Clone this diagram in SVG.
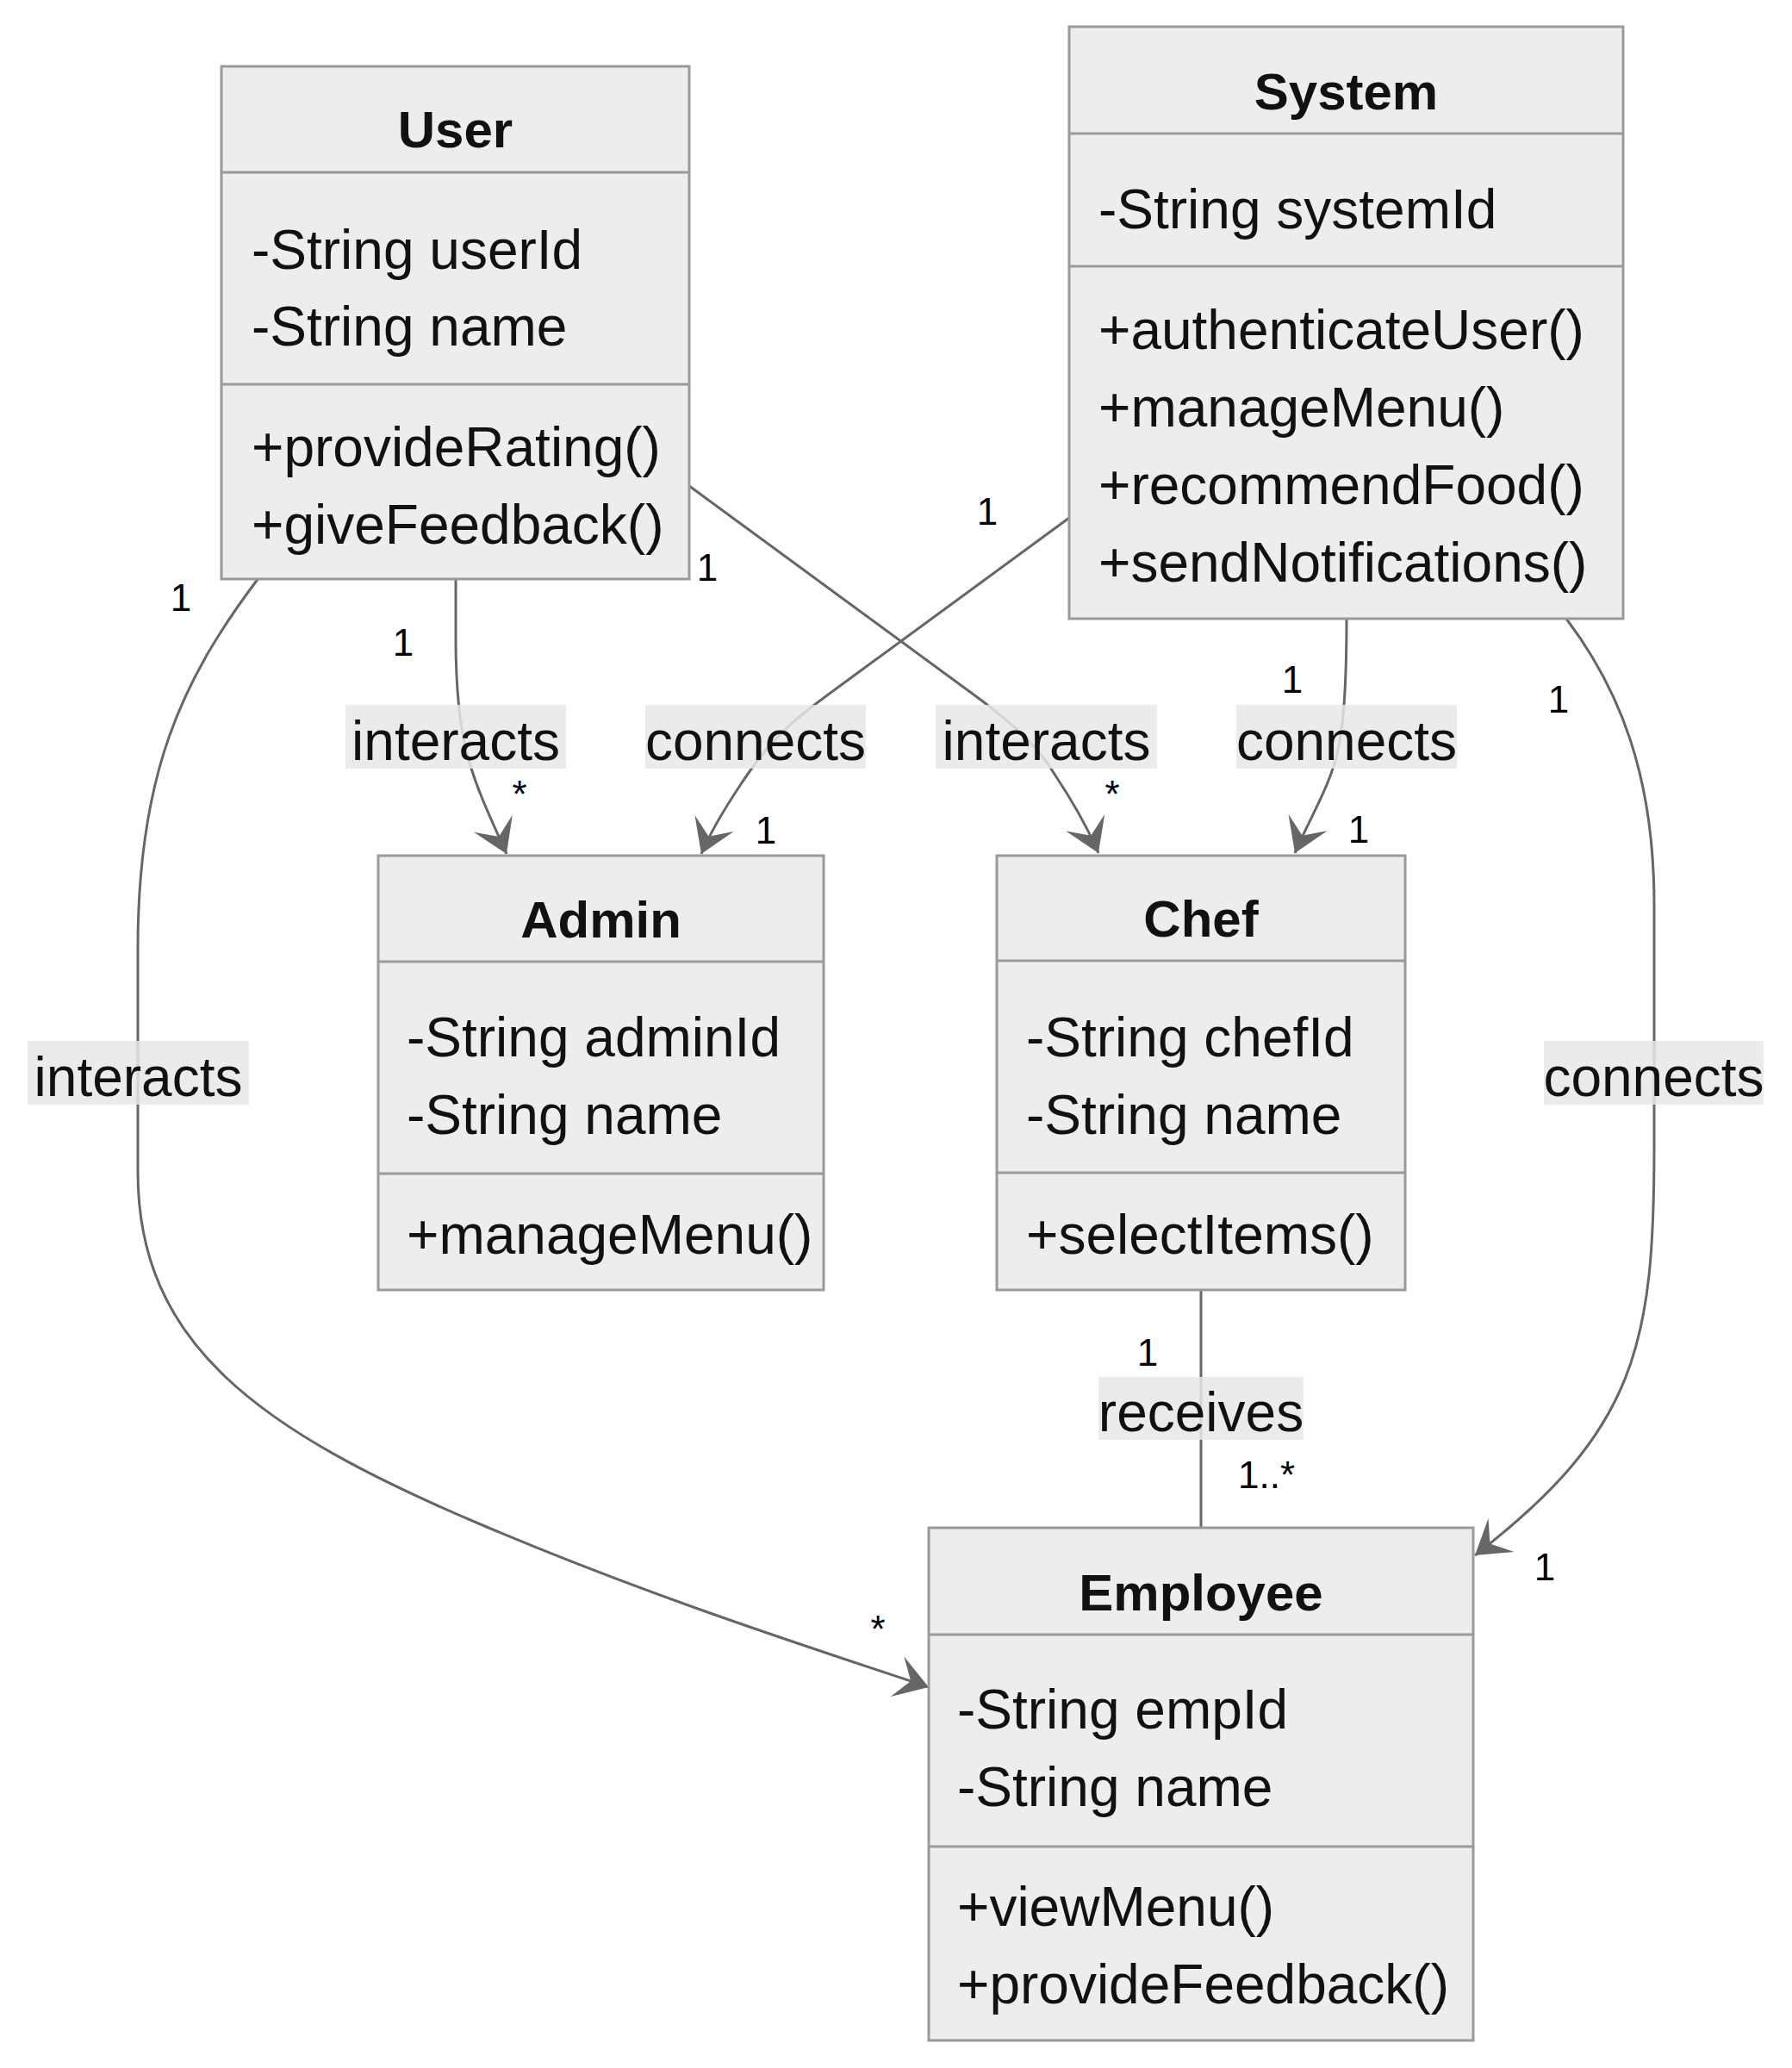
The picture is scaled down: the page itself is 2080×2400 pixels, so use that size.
<svg xmlns="http://www.w3.org/2000/svg" width="2080" height="2400" viewBox="0 0 2080 2400">
<style>
.box{fill:#ededed;stroke:#9a9a9a;stroke-width:3}
.div{stroke:#9a9a9a;stroke-width:3}
.title{font-family:"Liberation Sans",Arial,sans-serif;font-size:60px;font-weight:bold;fill:#111;text-anchor:middle}
.mem{font-family:"Liberation Sans",Arial,sans-serif;font-size:64px;fill:#111}
.edge{fill:none;stroke:#666;stroke-width:3}
.lbg{fill:#e8e8e8;opacity:0.85}
.lbl{font-family:"Liberation Sans",Arial,sans-serif;font-size:64px;fill:#111;text-anchor:middle}
.card{font-family:"Liberation Sans",Arial,sans-serif;font-size:44px;fill:#000;text-anchor:middle}
</style>
<defs>
<marker id="arr" viewBox="-45 -30 50 60" markerWidth="50" markerHeight="60" refX="0" refY="0" orient="auto" markerUnits="userSpaceOnUse">
<path d="M0,0 L-38.5,-24.5 L-22,0 L-38.5,24.5 Z" fill="#666"/>
</marker>
</defs>
<rect width="2080" height="2400" fill="#fff"/>
<g id="connectors">
<path class="edge" d="M529,671 L529,740 C529,800 534,850 545,885 C555,920 572,955 588,991" marker-end="url(#arr)"/>
<path class="edge" d="M1241,601 L960,807 C900,850 880,880 860,910 C840,940 825,965 814,991" marker-end="url(#arr)"/>
<path class="edge" d="M800,564 L1130,806 C1190,850 1210,875 1225,900 C1245,930 1262,960 1275,990" marker-end="url(#arr)"/>
<path class="edge" d="M1563,718 C1563,790 1560,840 1553,870 C1545,910 1520,950 1503,990" marker-end="url(#arr)"/>
<path class="edge" d="M1818,718 C1880,800 1920,900 1920,1050 L1920,1330 C1920,1560 1900,1660 1712,1805" marker-end="url(#arr)"/>
<path class="edge" d="M300,671 C210,790 160,900 160,1100 L160,1360 C160,1560 300,1660 560,1770 C760,1855 950,1915 1078,1958" marker-end="url(#arr)"/>
<path class="edge" d="M1394,1497 L1394,1773"/>
<g id="edge-labels">
<rect class="lbg" x="401" y="818" width="256" height="74"/>
<text class="lbl" x="529" y="882">interacts</text>
<rect class="lbg" x="749" y="818" width="256" height="74"/>
<text class="lbl" x="877" y="882">connects</text>
<rect class="lbg" x="1086" y="818" width="257" height="74"/>
<text class="lbl" x="1214.5" y="882">interacts</text>
<rect class="lbg" x="1435" y="818" width="256" height="74"/>
<text class="lbl" x="1563" y="882">connects</text>
<rect class="lbg" x="32" y="1208" width="257" height="74"/>
<text class="lbl" x="160.5" y="1272">interacts</text>
<rect class="lbg" x="1792" y="1208" width="255" height="74"/>
<text class="lbl" x="1919.5" y="1272">connects</text>
<rect class="lbg" x="1275" y="1598" width="238" height="73"/>
<text class="lbl" x="1394" y="1661">receives</text>
</g>
<g id="cardinalities">
<text class="card" x="210" y="709">1</text>
<text class="card" x="468" y="761">1</text>
<text class="card" x="821" y="674">1</text>
<text class="card" x="603" y="937">*</text>
<text class="card" x="889" y="979">1</text>
<text class="card" x="1146" y="609">1</text>
<text class="card" x="1500" y="804">1</text>
<text class="card" x="1291" y="937">*</text>
<text class="card" x="1577" y="978">1</text>
<text class="card" x="1809" y="827">1</text>
<text class="card" x="1332" y="1585">1</text>
<text class="card" x="1437" y="1727" style="text-anchor:start">1..*</text>
<text class="card" x="1019" y="1906">*</text>
<text class="card" x="1793" y="1834">1</text>
</g>
</g>
<g id="User">
<rect class="box" x="257" y="77" width="543" height="595"/>
<line class="div" x1="257" y1="200" x2="800" y2="200"/>
<line class="div" x1="257" y1="446" x2="800" y2="446"/>
<text class="title" x="528.5" y="171">User</text>
<text class="mem" x="292" y="312">-String userId</text>
<text class="mem" x="292" y="401">-String name</text>
<text class="mem" x="292" y="541">+provideRating()</text>
<text class="mem" x="292" y="631">+giveFeedback()</text>
</g>
<g id="System">
<rect class="box" x="1241" y="31" width="643" height="687"/>
<line class="div" x1="1241" y1="155" x2="1884" y2="155"/>
<line class="div" x1="1241" y1="309" x2="1884" y2="309"/>
<text class="title" x="1562.5" y="127">System</text>
<text class="mem" x="1275" y="265">-String systemId</text>
<text class="mem" x="1275" y="405">+authenticateUser()</text>
<text class="mem" x="1275" y="495">+manageMenu()</text>
<text class="mem" x="1275" y="585">+recommendFood()</text>
<text class="mem" x="1275" y="675">+sendNotifications()</text>
</g>
<g id="Admin">
<rect class="box" x="439" y="993" width="517" height="504"/>
<line class="div" x1="439" y1="1116" x2="956" y2="1116"/>
<line class="div" x1="439" y1="1362" x2="956" y2="1362"/>
<text class="title" x="697.5" y="1088">Admin</text>
<text class="mem" x="472" y="1226">-String adminId</text>
<text class="mem" x="472" y="1316">-String name</text>
<text class="mem" x="472" y="1455">+manageMenu()</text>
</g>
<g id="Chef">
<rect class="box" x="1157" y="993" width="474" height="504"/>
<line class="div" x1="1157" y1="1115" x2="1631" y2="1115"/>
<line class="div" x1="1157" y1="1361" x2="1631" y2="1361"/>
<text class="title" x="1394" y="1087">Chef</text>
<text class="mem" x="1191" y="1226">-String chefId</text>
<text class="mem" x="1191" y="1316">-String name</text>
<text class="mem" x="1191" y="1455">+selectItems()</text>
</g>
<g id="Employee">
<rect class="box" x="1078" y="1773" width="632" height="595"/>
<line class="div" x1="1078" y1="1897" x2="1710" y2="1897"/>
<line class="div" x1="1078" y1="2143" x2="1710" y2="2143"/>
<text class="title" x="1394" y="1869">Employee</text>
<text class="mem" x="1111" y="2006">-String empId</text>
<text class="mem" x="1111" y="2096">-String name</text>
<text class="mem" x="1111" y="2235">+viewMenu()</text>
<text class="mem" x="1111" y="2325">+provideFeedback()</text>
</g>
</svg>
